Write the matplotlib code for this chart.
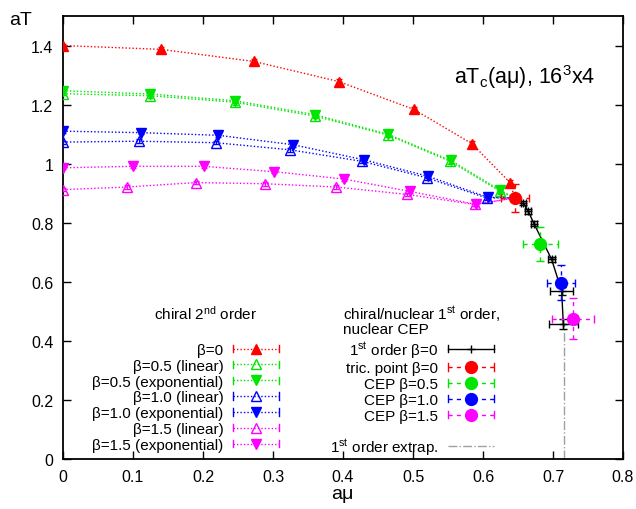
import matplotlib
matplotlib.use("Agg")
import matplotlib.pyplot as plt
from matplotlib.lines import Line2D
from matplotlib.legend_handler import HandlerBase
from matplotlib.ticker import MultipleLocator, FormatStrFormatter

plt.rcParams["font.family"] = ["Liberation Sans", "DejaVu Sans"]
plt.rcParams["mathtext.fontset"] = "custom"
plt.rcParams["mathtext.rm"] = "Liberation Sans"
plt.rcParams["mathtext.it"] = "Liberation Sans:italic"
plt.rcParams["mathtext.bf"] = "Liberation Sans:bold"

RED, GREEN, BLUE, MAGENTA = "#ff0000", "#00e600", "#0000ff", "#ff00ff"

# tricritical point (beta=0), where all chiral lines end
tric_mu, tric_T = [0.645], [0.884]
tric_dmu, tric_dT = [0.02], [0.047]

# chiral 2nd order lines
mu_b0 = [0.0, 0.140, 0.273, 0.394, 0.501, 0.584, 0.639]
T_b0 = [1.400, 1.387, 1.346, 1.278, 1.184, 1.068, 0.935]
dT_b0 = [0.006, 0.008, 0.008, 0.008, 0.008, 0.008, 0.010]

mu_b05_lin = [0.0, 0.124, 0.246, 0.360, 0.464, 0.553, 0.624]
T_b05_lin = [1.237, 1.230, 1.208, 1.161, 1.097, 1.008, 0.907]
mu_b05_exp = [0.0, 0.124, 0.246, 0.360, 0.464, 0.554, 0.624]
T_b05_exp = [1.247, 1.236, 1.213, 1.166, 1.100, 1.011, 0.911]
dT_b05 = [0.006, 0.008, 0.008, 0.008, 0.008, 0.008, 0.010]

mu_b10_lin = [0.0, 0.108, 0.218, 0.324, 0.427, 0.520, 0.605]
T_b10_lin = [1.073, 1.076, 1.071, 1.047, 1.008, 0.952, 0.884]
mu_b10_exp = [0.0, 0.111, 0.222, 0.329, 0.430, 0.522, 0.607]
T_b10_exp = [1.110, 1.105, 1.096, 1.064, 1.013, 0.957, 0.886]
dT_b10 = [0.005, 0.006, 0.006, 0.006, 0.006, 0.006, 0.006]

mu_b15_lin = [0.0, 0.092, 0.190, 0.289, 0.390, 0.491, 0.588]
T_b15_lin = [0.912, 0.921, 0.936, 0.932, 0.921, 0.896, 0.862]
mu_b15_exp = [0.0, 0.100, 0.201, 0.301, 0.401, 0.496, 0.590]
T_b15_exp = [0.986, 0.991, 0.991, 0.973, 0.948, 0.906, 0.862]
dT_b15 = [0.005, 0.006, 0.006, 0.006, 0.006, 0.006, 0.006]

# 1st order line at beta=0
mu_1st = [0.6576, 0.6647, 0.6729, 0.6981, 0.7124, 0.7147]
T_1st = [0.8668, 0.8383, 0.7966, 0.6756, 0.5685, 0.4576]
dmu_1st = [0.004, 0.004, 0.004, 0.005, 0.016, 0.021]
dT_1st = [0.008, 0.008, 0.008, 0.008, 0.014, 0.016]

# extrapolation of the 1st order line to T=0
mu_extrap = [0.715, 0.715]
T_extrap = [0.0, 0.4576]

# critical endpoints for beta = 0.5, 1.0, 1.5
cep_mu = [0.682, 0.711, 0.728]
cep_T = [0.729, 0.597, 0.475]
cep_dmu = [0.025, 0.020, 0.030]
cep_dT = [0.057, 0.060, 0.070]
cep_colors = [GREEN, BLUE, MAGENTA]

curves = [
    (mu_b0, T_b0, dT_b0, RED, "^", True, r"β=0"),
    (mu_b05_lin, T_b05_lin, dT_b05, GREEN, "^", False, r"β=0.5 (linear)"),
    (mu_b05_exp, T_b05_exp, dT_b05, GREEN, "v", True, r"β=0.5 (exponential)"),
    (mu_b10_lin, T_b10_lin, dT_b10, BLUE, "^", False, r"β=1.0 (linear)"),
    (mu_b10_exp, T_b10_exp, dT_b10, BLUE, "v", True, r"β=1.0 (exponential)"),
    (mu_b15_lin, T_b15_lin, dT_b15, MAGENTA, "^", False, r"β=1.5 (linear)"),
    (mu_b15_exp, T_b15_exp, dT_b15, MAGENTA, "v", True, r"β=1.5 (exponential)"),
]

DOTTED = (0, (1, 1.5))
DASHED = (0, (3, 3))


class Key:
    def __init__(self, color, ls, marker=None, ms=6, filled=True, caps=True):
        self.color, self.ls, self.marker = color, ls, marker
        self.ms, self.filled, self.caps = ms, filled, caps


class KeyHandler(HandlerBase):
    # gnuplot-like key sample: line with end caps and a point in the middle
    def create_artists(self, legend, key, xd, yd, w, h, fontsize, trans):
        y = h / 2 - yd
        x0, x1 = -xd, -xd + w
        arts = [Line2D([x0, x1], [y, y], color=key.color, ls=key.ls, lw=1)]
        if key.caps:
            c = 0.35 * h
            arts.append(Line2D([x0, x0], [y - c, y + c], color=key.color, lw=1))
            arts.append(Line2D([x1, x1], [y - c, y + c], color=key.color, lw=1))
        if key.marker:
            arts.append(Line2D([(x0 + x1) / 2], [y], marker=key.marker, ms=key.ms,
                               color=key.color, mew=1,
                               mfc=key.color if key.filled else "none"))
        for a in arts:
            a.set_transform(trans)
        return arts


def key_legend(keys, top):
    return ax.legend([k for k, _ in keys], [l for _, l in keys],
                     handler_map={Key: KeyHandler()}, loc="upper right",
                     bbox_to_anchor=top, frameon=False, markerfirst=False,
                     fontsize=11, handlelength=3.0, handletextpad=0.65,
                     labelspacing=0.12, borderpad=0, borderaxespad=0)


fig = plt.figure(figsize=(6.36, 5.10), dpi=100)
ax = fig.add_axes([63 / 636, 50 / 510, 560 / 636, 443 / 510])

left_keys = []
for mu, T, dT, col, mk, filled, label in curves:
    ax.plot(mu + tric_mu, T + tric_T, color=col, ls=DOTTED, lw=1, zorder=2)
    ax.errorbar(mu, T, yerr=dT, fmt=mk, color=col, ms=6.5, mew=1,
                mfc=col if filled else "none", elinewidth=0.8,
                capsize=2, zorder=3)
    left_keys.append((Key(col, DOTTED, mk, 6.5, filled), label))

# 1st order line and its extrapolation
ax.plot(mu_extrap, T_extrap, color="#a0a0a0", ls="-.", lw=1, zorder=1)
ax.errorbar(mu_1st, T_1st, xerr=dmu_1st, yerr=dT_1st, color="k", marker="+",
            ms=6, lw=1, elinewidth=1, capsize=3, zorder=4)

# tricritical point and critical endpoints
points = [(tric_mu, tric_T, tric_dmu, tric_dT, RED)]
for i in range(len(cep_mu)):
    points.append(([cep_mu[i]], [cep_T[i]], [cep_dmu[i]], [cep_dT[i]], cep_colors[i]))
for mu, T, dmu, dT, col in points:
    eb = ax.errorbar(mu, T, xerr=dmu, yerr=dT, fmt="o", color=col, ms=8.5,
                     elinewidth=1, capsize=3, zorder=5)
    for c in eb[2]:
        c.set_linestyle(DASHED)

ax.set_xlim(0, 0.8)
ax.set_ylim(0, 1.5)
ax.xaxis.set_major_locator(MultipleLocator(0.1))
ax.yaxis.set_major_locator(MultipleLocator(0.2))
ax.xaxis.set_major_formatter(FormatStrFormatter("%g"))
ax.yaxis.set_major_formatter(FormatStrFormatter("%g"))
ax.tick_params(direction="in", length=6, width=1, top=True, right=True,
               labelsize=11.5, pad=7)
for s in ax.spines.values():
    s.set_linewidth(1.3)

ax.text(-0.075, 0.993, "aT", transform=ax.transAxes, fontsize=14,
        ha="center", va="center")
ax.text(0.498, -0.078, "aμ", transform=ax.transAxes, fontsize=14,
        ha="center", va="center")
ax.text(0.95, 0.849, r"aT$_{\mathrm{c}}$(aμ), 16$^{\mathrm{3}}$x4",
        transform=ax.transAxes, fontsize=15.5, ha="right", va="baseline")

# key for the chiral lines
ax.text(0.1625, 0.316, r"chiral 2$^{\mathrm{nd}}$ order", transform=ax.transAxes,
        fontsize=11, ha="left", va="baseline")
ax.add_artist(key_legend(left_keys, (0.386, 0.262)))

# key for the 1st order line and endpoints
ax.text(0.5, 0.3176, r"chiral/nuclear 1$^{\mathrm{st}}$ order,",
        transform=ax.transAxes, fontsize=11, ha="left", va="baseline")
ax.text(0.5, 0.2845, "nuclear CEP", transform=ax.transAxes, fontsize=11,
        ha="left", va="baseline")
right_keys = [
    (Key("k", "-", "+", 6), r"1$^{\mathrm{st}}$ order β=0"),
    (Key(RED, DASHED, "o", 8.5), "tric. point β=0"),
    (Key(GREEN, DASHED, "o", 8.5), "CEP β=0.5"),
    (Key(BLUE, DASHED, "o", 8.5), "CEP β=1.0"),
    (Key(MAGENTA, DASHED, "o", 8.5), "CEP β=1.5"),
]
ax.add_artist(key_legend(right_keys, (0.7696, 0.271)))
extrap_keys = [(Key("#a0a0a0", "-.", None, caps=False),
                r"1$^{\mathrm{st}}$ order extrap.")]
key_legend(extrap_keys, (0.7696, 0.051))

fig.savefig("out.png", dpi=100)
